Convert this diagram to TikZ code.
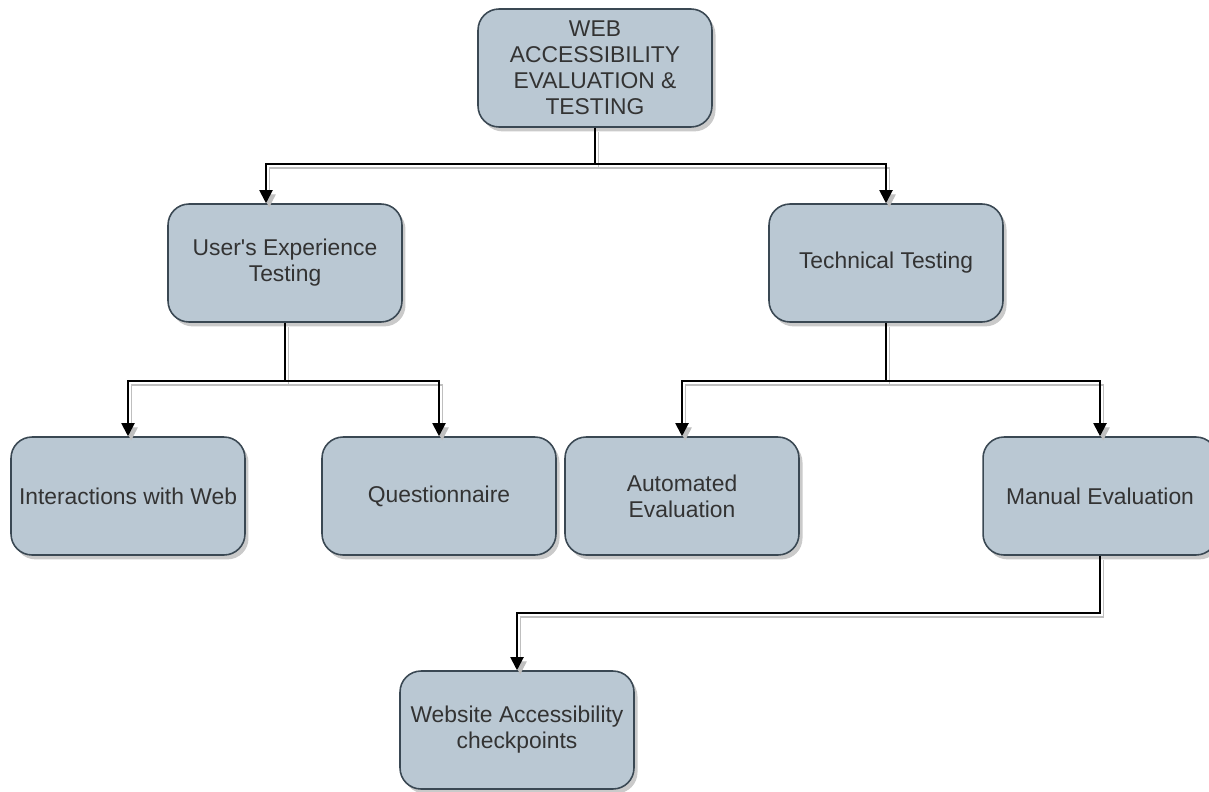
\documentclass[tikz,border=0pt]{standalone}
\usepackage{fontspec}
\setmainfont{Liberation Sans}
\usetikzlibrary{arrows.meta,shadows}
\definecolor{boxfill}{HTML}{BAC8D3}
\definecolor{boxline}{HTML}{3A4853}

\tikzset{
  box/.style={draw=boxline, fill=boxfill, line width=0.9pt, rounded corners=0.42cm,
    minimum width=4.68cm, minimum height=2.36cm, inner sep=0pt, align=center,
    text=black!80, font=\fontsize{13}{14.8}\selectfont,
    drop shadow={shadow xshift=2pt, shadow yshift=-2.5pt, fill=black!35, opacity=0.6}},
  conn/.style={draw=black, line width=1.1pt, -{Triangle[length=7.5pt,width=7.5pt]},
    preaction={draw=black!25, line width=0.7pt, transform canvas={shift={(1.8pt,-2.4pt)}}}},
}

\begin{document}
\begin{tikzpicture}[x=0.02cm, y=-0.02cm]
\useasboundingbox (0,0) rectangle (1209,791);

% boxes
\node[box] (top) at (595,68)  {WEB\\ACCESSIBILITY\\EVALUATION \&\\TESTING};
\node[box] (ux)  at (285,263) {User\textquotesingle s Experience\\Testing};
\node[box] (tt)  at (886,263) {Technical Testing};
\node[box] (iw)  at (128,496) {Interactions with Web};
\node[box] (qn)  at (439,496) {Questionnaire};
\node[box] (ae)  at (682,496) {Automated\\Evaluation};
\node[box] (me)  at (1100,496) {Manual Evaluation};
\node[box] (wa)  at (517,730) {Website Accessibility\\checkpoints};

% connectors
\draw[conn] (top.south) -- ++(0,36) -| ([xshift=-0.38cm]ux.north);
\draw[conn] (top.south) -- ++(0,36) -| (tt.north);
\draw[conn] (ux.south) -- ++(0,58) -| (iw.north);
\draw[conn] (ux.south) -- ++(0,58) -| (qn.north);
\draw[conn] (tt.south) -- ++(0,58) -| (ae.north);
\draw[conn] (tt.south) -- ++(0,58) -| (me.north);
\draw[conn] (me.south) -- ++(0,57) -| (wa.north);
\end{tikzpicture}
\end{document}
